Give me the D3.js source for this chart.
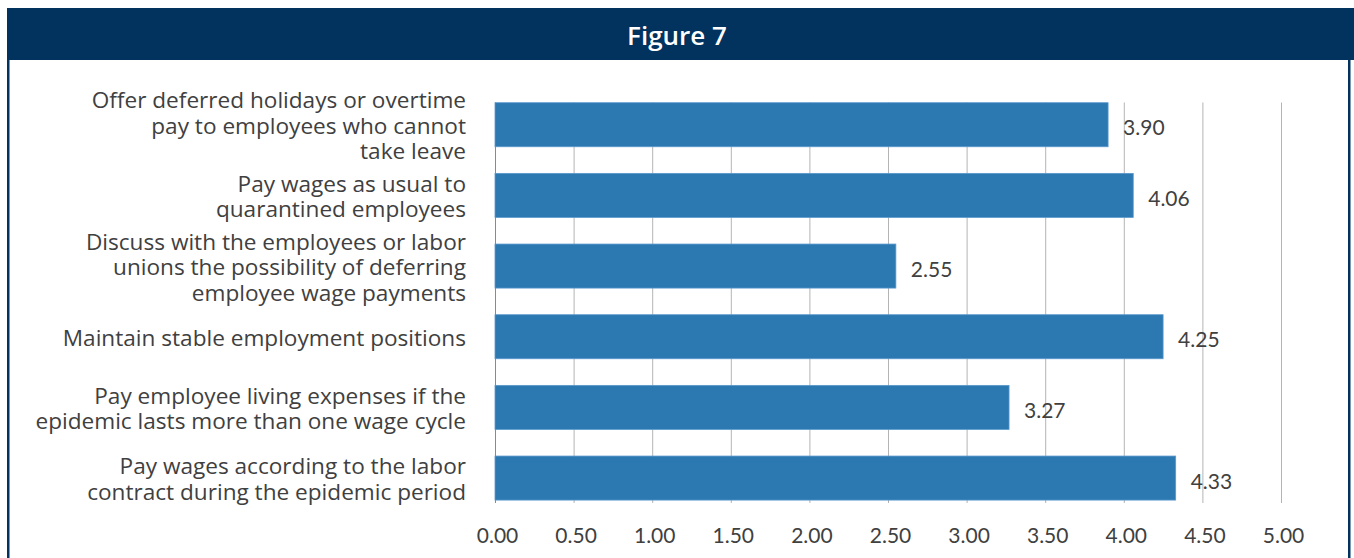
<!DOCTYPE html>
<html>
<head>
<meta charset="utf-8">
<script src="https://cdn.jsdelivr.net/npm/d3@7/dist/d3.min.js"></script>
<style>
  html, body { margin: 0; padding: 0; background: #ffffff; }
  svg { display: block; }
  text { font-family: Lato, "Noto Sans", sans-serif; }
</style>
</head>
<body>
<svg id="chart" width="1354" height="558"></svg>
<script>
// Survey items (line breaks mark wrapped label lines)
const categories = [
  "Offer deferred holidays or overtime\npay to employees who cannot\ntake leave",
  "Pay wages as usual to\nquarantined employees",
  "Discuss with the employees or labor\nunions the possibility of deferring\nemployee wage payments",
  "Maintain stable employment positions",
  "Pay employee living expenses if the\nepidemic lasts more than one wage cycle",
  "Pay wages according to the labor\ncontract during the epidemic period"
];
// Mean scores
const values = [3.90, 4.06, 2.55, 4.25, 3.27, 4.33];
// Axis ticks
const xTicks = [0, 0.5, 1, 1.5, 2, 2.5, 3, 3.5, 4, 4.5, 5];
const title = "Figure 7";

const W = 1354, H = 558;
const navy = "#02325e";
const barColor = "#2c78b1";
const textColor = "#404040";

const svg = d3.select("#chart");

// Frame: header band and side rules
svg.append("rect").attr("x", 7).attr("y", 8).attr("width", W - 7).attr("height", 52).attr("fill", navy);
svg.append("rect").attr("x", 7).attr("y", 60).attr("width", 2.5).attr("height", H - 60).attr("fill", navy);
svg.append("rect").attr("x", 1348).attr("y", 60).attr("width", 2.5).attr("height", H - 60).attr("fill", navy);

svg.append("text")
  .attr("x", 677).attr("y", 35)
  .attr("text-anchor", "middle").attr("dominant-baseline", "central")
  .attr("fill", "#ffffff").attr("font-size", 26).attr("font-weight", 600)
  .style("font-family", "'Open Sans', Lato, sans-serif")
  .text(title);

const x = d3.scaleLinear().domain([0, 5]).range([495, 1281]);
const y = d3.scaleBand().domain(d3.range(categories.length))
  .range([89.4, 513.4]).paddingInner(0.377).paddingOuter(0.1885);

const gridTop = 102.5, gridBottom = 503;

// Vertical gridlines
svg.append("g").selectAll("line").data(xTicks).join("line")
  .attr("x1", d => x(d) + 0.5).attr("x2", d => x(d) + 0.5)
  .attr("y1", gridTop).attr("y2", gridBottom)
  .attr("stroke", d => d === 0 ? "#8a8a8a" : "#b4b4b4").attr("stroke-width", 1);

// Bars
svg.append("g").selectAll("rect").data(values).join("rect")
  .attr("x", x(0)).attr("y", (d, i) => y(i))
  .attr("width", d => x(d) - x(0)).attr("height", y.bandwidth())
  .attr("fill", barColor).attr("stroke", "#5a98cc").attr("stroke-width", 0.8);

// Value labels
svg.append("g").selectAll("text").data(values).join("text")
  .attr("x", d => x(d) + 15).attr("y", (d, i) => y(i) + y.bandwidth() / 2 + 2)
  .attr("dominant-baseline", "central")
  .attr("fill", textColor).attr("font-size", 21)
  .text(d => d3.format(".2f")(d));

// Category labels, one tspan per wrapped line
const lineH = 25.5;
const catG = svg.append("g").selectAll("text").data(categories).join("text")
  .attr("text-anchor", "end")
  .attr("fill", textColor).attr("font-size", 22.6)
  .style("font-family", "'Open Sans', Lato, sans-serif")
  .attr("dominant-baseline", "central");
catG.each(function(d, i) {
  const lines = d.split("\n");
  const cy = y(i) + y.bandwidth() / 2;
  const t = d3.select(this);
  lines.forEach((ln, k) => {
    t.append("tspan").attr("x", 466)
      .attr("y", cy + (k - (lines.length - 1) / 2) * lineH)
      .text(ln);
  });
});

// Bottom axis labels
const xAxis = d3.axisBottom(x).tickValues(xTicks).tickFormat(d3.format(".2f")).tickSize(0).tickPadding(0);
const ax = svg.append("g").attr("transform", "translate(2,534)").call(xAxis);
ax.select(".domain").remove();
ax.selectAll("text")
  .attr("dy", null).attr("dominant-baseline", "central")
  .attr("fill", textColor).attr("font-size", 21)
  .style("font-family", "Lato, 'Noto Sans', sans-serif");
</script>
</body>
</html>
